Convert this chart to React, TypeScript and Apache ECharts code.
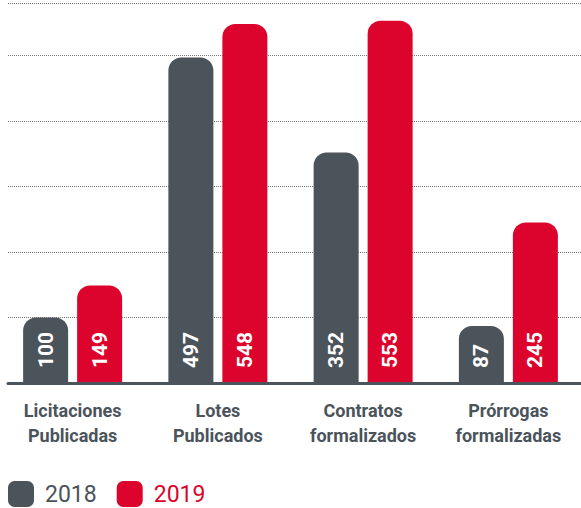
import React, { useEffect, useRef } from "react";
import * as echarts from "echarts";

const categories = [
  "Licitaciones\nPublicadas",
  "Lotes\nPublicados",
  "Contratos\nformalizados",
  "Prórrogas\nformalizadas",
];
const values2018 = [100, 497, 352, 87];
const values2019 = [149, 548, 553, 245];
const seriesNames = ["2018", "2019"];

const GRAY = "#4b535b";
const RED = "#dc042c";

export default function App() {
  const ref = useRef<HTMLDivElement>(null);
  useEffect(() => {
    document.body.style.margin = "0";
    const chart = echarts.init(ref.current!, undefined, { renderer: "svg" });
    const label = {
      show: true,
      position: "insideBottom",
      rotate: 90,
      align: "left",
      verticalAlign: "middle",
      distance: 15,
      color: "#ffffff",
      fontFamily: "Roboto",
      fontWeight: "bold",
      fontSize: 21,
    };
    chart.setOption({
      animation: false,
      grid: [
        { left: -4, width: 598, top: 3, height: 380 },
        { left: 8, right: 0, top: 3, height: 380 },
      ],
      legend: {
        left: 8,
        top: 481,
        padding: 0,
        icon: "roundRect",
        itemWidth: 26,
        itemHeight: 26,
        itemGap: 20,
        textStyle: {
          fontFamily: "Roboto",
          fontSize: 23,
          padding: [0, 0, 0, 6],
        },
        data: [
          { name: seriesNames[0], textStyle: { color: GRAY } },
          { name: seriesNames[1], textStyle: { color: RED } },
        ],
      },
      xAxis: [
        {
          type: "category",
          gridIndex: 0,
          data: categories,
          axisLine: { show: false },
          axisTick: { show: false },
          axisLabel: {
            margin: 15,
            color: GRAY,
            fontFamily: "Roboto",
            fontWeight: "bold",
            fontSize: 18,
            lineHeight: 25,
            interval: 0,
          },
        },
        {
          type: "value",
          gridIndex: 1,
          min: 0,
          max: 1,
          z: 5,
          axisLine: { show: true, lineStyle: { color: GRAY, width: 3 } },
          axisTick: { show: false },
          axisLabel: { show: false },
          splitLine: { show: false },
        },
      ],
      yAxis: [
        {
          type: "value",
          gridIndex: 0,
          min: 0,
          max: 580,
          interval: 100,
          axisLine: { show: false },
          axisTick: { show: false },
          axisLabel: { show: false },
          splitLine: { show: false },
        },
        {
          type: "value",
          gridIndex: 1,
          min: 0,
          max: 580,
          interval: 100,
          axisLine: { show: false },
          axisTick: { show: false },
          axisLabel: { show: false },
          splitLine: {
            show: true,
            lineStyle: { color: "#777777", width: 1, type: [1, 1] },
          },
        },
      ],
      series: [
        {
          name: seriesNames[0],
          type: "bar",
          xAxisIndex: 0,
          yAxisIndex: 0,
          data: values2018,
          barWidth: 45,
          barGap: "20%",
          itemStyle: { color: GRAY, borderRadius: [13, 13, 0, 0] },
          label,
        },
        {
          name: seriesNames[1],
          type: "bar",
          xAxisIndex: 0,
          yAxisIndex: 0,
          data: values2019,
          barWidth: 45,
          barGap: "20%",
          itemStyle: { color: RED, borderRadius: [13, 13, 0, 0] },
          label,
        },
      ],
    });
    return () => chart.dispose();
  }, []);
  return (
    <div
      ref={ref}
      style={{ position: "absolute", left: 0, top: 0, width: 581, height: 508 }}
    />
  );
}
